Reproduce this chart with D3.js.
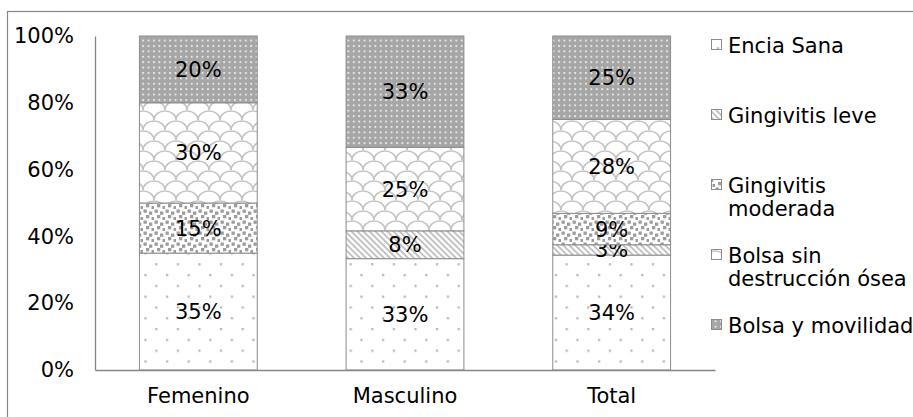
<!DOCTYPE html>
<html>
<head>
<meta charset="utf-8">
<script src="https://cdnjs.cloudflare.com/ajax/libs/d3/7.8.5/d3.min.js"></script>
<style>
body{margin:0;background:#fff;}
text{font-family:"DejaVu Sans",Verdana,sans-serif;}
</style>
</head>
<body>
<script>
//chart data
var categories = ["Femenino", "Masculino", "Total"];
var seriesNames = ["Encia Sana", "Gingivitis leve", "Gingivitis moderada", "Bolsa sin destrucción ósea", "Bolsa y movilidad"];
var enciaSana = [35, 33.33, 34.4];
var gingivitisLeve = [0, 8.33, 3.1];
var gingivitisModerada = [15, 0, 9.4];
var bolsaSinDestruccion = [30, 25, 28.1];
var bolsaMovilidad = [20, 33.33, 25];
var yTicks = [0, 0.2, 0.4, 0.6, 0.8, 1];

var seriesValues = [enciaSana, gingivitisLeve, gingivitisModerada, bolsaSinDestruccion, bolsaMovilidad];

var width = 913,
    height = 417,
    fontSize = 21;

var svg = d3.select("body")
    .append("svg")
    .attr("width", width)
    .attr("height", height);

//fill patterns like the excel ones
var defs = svg.append("defs");
makePatterns(defs);
var patternIds = ["pSana", "pLeve", "pModerada", "pBolsaSin", "pMovilidad"];

//outer frame (runs off the picture on the right and bottom)
svg.append("rect")
    .attr("x", 7.5)
    .attr("y", 11.5)
    .attr("width", width)
    .attr("height", height)
    .attr("fill", "none")
    .attr("stroke", "#868686")
    .attr("stroke-width", 1.2);

var plot = {left: 95, right: 715, top: 36, bottom: 370};

var x = d3.scaleBand()
    .domain(categories)
    .range([plot.left, plot.right])
    .paddingInner(0.43)
    .paddingOuter(0.215);

var y = d3.scaleLinear()
    .domain([0, 1])
    .range([plot.bottom, plot.top]);

//build rows for the stack
var rows = categories.map(function(c, i){
    var row = {cat: c};
    seriesNames.forEach(function(s, j){
        row[s] = seriesValues[j][i];
    });
    return row;
});

var stacked = d3.stack()
    .keys(seriesNames)
    .offset(d3.stackOffsetExpand)(rows);

var groups = svg.selectAll(".series")
    .data(stacked)
    .enter()
    .append("g")
    .attr("class", "series")
    .attr("fill", function(d, i){ return "url(#" + patternIds[i] + ")"; });

groups.selectAll("rect")
    .data(function(d){ return d; })
    .enter()
    .filter(function(d){ return d[1] - d[0] > 0; })
    .append("rect")
    .attr("x", function(d){ return x(d.data.cat); })
    .attr("y", function(d){ return y(d[1]); })
    .attr("width", x.bandwidth())
    .attr("height", function(d){ return y(d[0]) - y(d[1]); })
    .attr("stroke", "#8c8c8c")
    .attr("stroke-width", 1);

//data labels
var pct = d3.format(".0%");
groups.selectAll("text")
    .data(function(d){ return d; })
    .enter()
    .filter(function(d){ return d[1] - d[0] > 0; })
    .append("text")
    .attr("x", function(d){ return x(d.data.cat) + x.bandwidth() / 2; })
    .attr("y", function(d){ return y((d[0] + d[1]) / 2); })
    .attr("dy", "0.36em")
    .attr("text-anchor", "middle")
    .attr("font-size", fontSize)
    .attr("fill", "#000")
    .text(function(d){ return pct(d[1] - d[0]); });

//y axis
var yAxis = svg.append("g")
    .attr("transform", "translate(" + plot.left + ",0)")
    .call(d3.axisLeft(y).tickValues(yTicks).tickFormat(d3.format(".0%")).tickSize(0).tickPadding(21));
yAxis.select(".domain").attr("stroke", "#868686").attr("stroke-width", 1.3);
yAxis.selectAll("text").attr("font-size", fontSize).attr("fill", "#000").attr("font-family", "DejaVu Sans, Verdana, sans-serif");

//x axis
var xAxis = svg.append("g")
    .attr("transform", "translate(0," + plot.bottom + ")")
    .call(d3.axisBottom(x).tickSize(0).tickPadding(18));
xAxis.select(".domain").attr("stroke", "#868686").attr("stroke-width", 1.3);
xAxis.selectAll("text").attr("font-size", fontSize).attr("fill", "#000").attr("font-family", "DejaVu Sans, Verdana, sans-serif");

//legend
var legend = svg.append("g");
seriesNames.forEach(function(name, i){
    var ly = 45 + i * 70;
    legend.append("rect")
        .attr("x", 711.5)
        .attr("y", ly - 5.5)
        .attr("width", 10)
        .attr("height", 10)
        .attr("fill", "url(#" + patternIds[i] + ")")
        .attr("stroke", "#8c8c8c")
        .attr("stroke-width", 1);
    var t = legend.append("text")
        .attr("x", 728)
        .attr("y", ly)
        .attr("font-size", fontSize)
        .attr("fill", "#000");
    wrapText(t, name, 200, 23);
});

function wrapText(t, str, maxW, lineH){
    var words = str.split(" ");
    var line = [];
    var ts = t.append("tspan").attr("x", t.attr("x")).attr("dy", "0.36em");
    words.forEach(function(w){
        line.push(w);
        ts.text(line.join(" "));
        if (ts.node().getComputedTextLength() > maxW && line.length > 1){
            line.pop();
            ts.text(line.join(" "));
            line = [w];
            ts = t.append("tspan").attr("x", t.attr("x")).attr("dy", lineH).text(w);
        }
    });
}

function makePatterns(defs){
    //sparse dots
    var p1 = defs.append("pattern").attr("id", "pSana")
        .attr("patternUnits", "userSpaceOnUse").attr("width", 21.6).attr("height", 21.6);
    p1.append("rect").attr("width", 21.6).attr("height", 21.6).attr("fill", "#fff");
    p1.append("rect").attr("x", 4).attr("y", 4).attr("width", 2.2).attr("height", 2.2).attr("fill", "#b4b4b4");
    p1.append("rect").attr("x", 14.8).attr("y", 14.8).attr("width", 2.2).attr("height", 2.2).attr("fill", "#b4b4b4");

    //downward diagonal
    var p2 = defs.append("pattern").attr("id", "pLeve")
        .attr("patternUnits", "userSpaceOnUse").attr("width", 6).attr("height", 6);
    p2.append("rect").attr("width", 6).attr("height", 6).attr("fill", "#fff");
    p2.append("path").attr("d", "M0,0L6,6M-1,5L1,7M5,-1L7,1")
        .attr("stroke", "#bdbdbd").attr("stroke-width", 1.6);

    //dense squares
    var p3 = defs.append("pattern").attr("id", "pModerada")
        .attr("patternUnits", "userSpaceOnUse").attr("width", 11).attr("height", 11);
    p3.append("rect").attr("width", 11).attr("height", 11).attr("fill", "#fff");
    [[0.5, 0.5], [6, 2.5], [3, 6], [8.5, 8]].forEach(function(d){
        p3.append("rect").attr("x", d[0]).attr("y", d[1]).attr("width", 3.3).attr("height", 3.3).attr("fill", "#9c9c9c");
    });

    //scales
    var p4 = defs.append("pattern").attr("id", "pBolsaSin")
        .attr("patternUnits", "userSpaceOnUse").attr("width", 22).attr("height", 20);
    p4.append("rect").attr("width", 22).attr("height", 20).attr("fill", "#fff");
    p4.append("path")
        .attr("d", "M0,20 A11,9 0 0 1 22,20 M-11,10 A11,9 0 0 1 11,10 M11,10 A11,9 0 0 1 33,10 M0,0 A11,9 0 0 1 22,0")
        .attr("fill", "none").attr("stroke", "#c4c4c4").attr("stroke-width", 1.6);

    //grey with white dots
    var p5 = defs.append("pattern").attr("id", "pMovilidad")
        .attr("patternUnits", "userSpaceOnUse").attr("width", 5.4).attr("height", 5.4);
    p5.append("rect").attr("width", 5.4).attr("height", 5.4).attr("fill", "#a6a6a6");
    p5.append("rect").attr("x", 1.8).attr("y", 1.8).attr("width", 1.9).attr("height", 1.9).attr("fill", "#e6e6e6");
}
</script>
</body>
</html>
